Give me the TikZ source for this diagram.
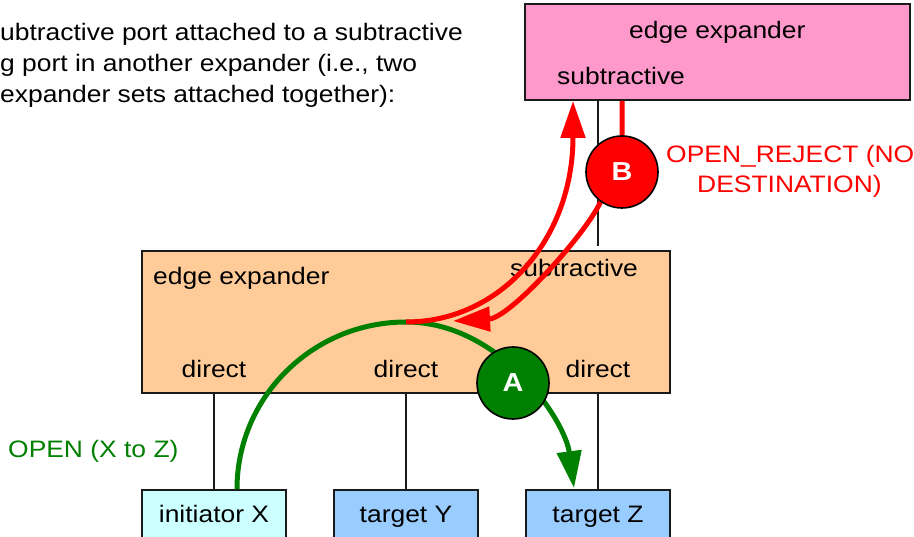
\documentclass[tikz,border=0pt]{standalone}
\usepackage{fontspec}
\setmainfont{Liberation Sans}[FakeStretch=1.11]
\usetikzlibrary{arrows.meta}
\definecolor{pinkc}{HTML}{FF99CC}
\definecolor{orangec}{HTML}{FFCC99}
\definecolor{cyanc}{HTML}{CCFFFF}
\definecolor{bluec}{HTML}{99CCFF}
\definecolor{greenc}{HTML}{008000}
\definecolor{redc}{HTML}{FF0000}
\definecolor{edgec}{HTML}{1A1A1A}
\begin{document}
\begin{tikzpicture}[x=1pt,y=-1pt,
  font=\fontsize{23.8}{28}\selectfont,
  box/.style={draw=edgec, line width=1.8pt, inner sep=0pt, anchor=center},
  lbl/.style={inner sep=0pt, anchor=base west},
  clbl/.style={inner sep=0pt, anchor=base},
  conn/.style={draw=edgec, line width=1.3pt},
  flowg/.style={draw=greenc, line width=5pt, -{Triangle[length=37pt,width=24pt]}},
  flowr/.style={draw=redc, line width=5pt, -{Triangle[length=37pt,width=24pt]}},
  ball/.style={circle, draw=black, line width=1.6pt, minimum size=72pt, inner sep=0pt,
    text=white, font=\fontsize{26}{30}\selectfont\bfseries}]
\useasboundingbox (0,0) rectangle (914,537);

% boxes
\node[box, fill=pinkc, minimum width=385pt, minimum height=96pt] (ee2) at (717.5,52) {};
\node[box, fill=orangec, minimum width=528pt, minimum height=142pt] (ee1) at (406,322) {};
\node[box, fill=cyanc, minimum width=144pt, minimum height=52pt] (ini) at (214,516) {};
\node[box, fill=bluec, minimum width=144pt, minimum height=52pt] (tY) at (406,516) {};
\node[box, fill=bluec, minimum width=144pt, minimum height=52pt] (tZ) at (598,516) {};

% connectors
\coordinate (sp) at (598,246);
\draw[conn] (ee2.south -| sp) -- (sp);
\draw[conn] (ini.north |- ee1.south) -- (ini.north);
\draw[conn] (tY.north |- ee1.south) -- (tY.north);
\draw[conn] (tZ.north |- ee1.south) -- (tZ.north);

% labels
\node[lbl] (t1) at (0,41) {ubtractive port attached to a subtractive};
\node[lbl] (t2) at (0,72) {g port in another expander (i.e., two};
\node[lbl] (t3) at (0,103) {expander sets attached together):};
\node[lbl] (l2a) at (629,39) {edge expander};
\node[lbl] (l2b) at (557,85) {subtractive};
\node[lbl] (l1a) at (153,285) {edge expander};
\node[lbl] (l1b) at (510,277) {subtractive};
\node[clbl] (d1) at (214,378) {direct};
\node[clbl] (d2) at (406,378) {direct};
\node[clbl] (d3) at (598,378) {direct};
\node[clbl] (lx) at (214,522) {initiator X};
\node[clbl] (ly) at (406,522) {target Y};
\node[clbl] (lz) at (598,522) {target Z};
\node[lbl, text=greenc] (lopen) at (8,457) {OPEN (X to Z)};
\node[lbl, text=redc] (lrej) at (666,163) {OPEN\_REJECT (NO};
\node[lbl, text=redc] (lrej2) at (697,193) {DESTINATION)};

% flows
\coordinate (peak) at (406,322);
\draw[flowg] ([xshift=23pt]ini.north) .. controls (237,397) and (312.7,322) .. (peak)
  .. controls (500,322) and (565,420) .. ([xshift=-24pt,yshift=1pt]tZ.north);
\draw[flowr] (peak) .. controls (500,322) and (573,240) .. ([xshift=-144.5pt]ee2.south);
\coordinate (rtip) at (453,321);
\draw[flowr] ([xshift=-95.5pt]ee2.south) -- (622,140) .. controls (622,170) and (610,183) .. (600,203)
  .. controls (584,236) and (510,318) .. (rtip);

% markers
\node[ball, fill=greenc] (A) at (513,383) {A};
\node[ball, fill=redc] (B) at (622,172) {B};
\end{tikzpicture}
\end{document}
